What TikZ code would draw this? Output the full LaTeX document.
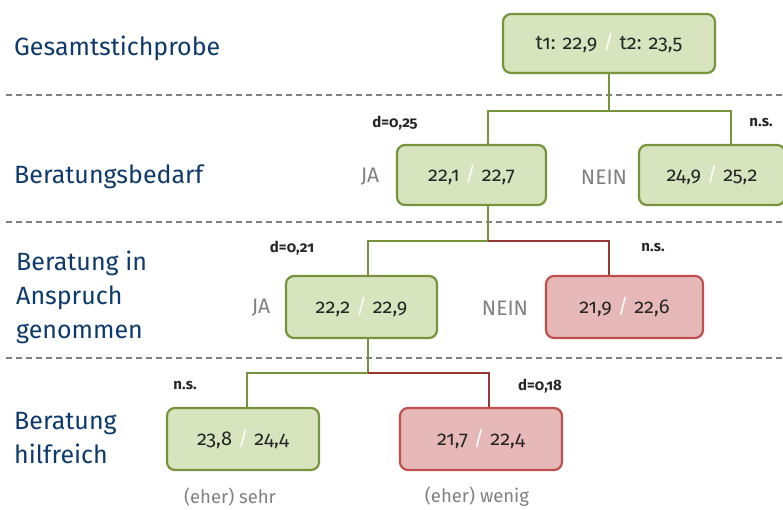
\documentclass[tikz,border=0pt]{standalone}
\usepackage{fontspec}
\setmainfont{Fira Sans}[Numbers=OldStyle]
\usetikzlibrary{positioning}
\definecolor{boxgreen}{HTML}{D7E4BD}
\definecolor{linegreen}{HTML}{77933C}
\definecolor{boxred}{HTML}{E6B9B8}
\definecolor{edgered}{HTML}{C0504D}
\definecolor{linered}{HTML}{953735}
\definecolor{navy}{HTML}{0E3A6B}
\definecolor{labelgray}{HTML}{808080}
\definecolor{valtext}{HTML}{262626}
\newcommand{\valsep}{\hspace{0.3em}\textcolor{white}{/}\hspace{0.3em}}
\tikzset{
  valbox/.style={draw, rounded corners=8pt, line width=2.2pt, text=valtext,
    font=\fontsize{20}{24}\selectfont, inner sep=0pt},
  gbox/.style={valbox, fill=boxgreen, draw=linegreen},
  rbox/.style={valbox, fill=boxred, draw=edgered},
  gline/.style={draw=linegreen, line width=2.2pt},
  rline/.style={draw=linered, line width=2.2pt},
  sep/.style={draw=labelgray, line width=1.2pt, dash pattern=on 6pt off 4pt},
  level/.style={text=navy, font=\fontsize{25}{34}\selectfont, anchor=west, align=left, inner sep=0pt},
  eff/.style={text=valtext, font=\fontsize{15}{16}\selectfont\bfseries, inner sep=0pt},
  choice/.style={text=labelgray, font=\fontsize{21}{24}\selectfont, inner sep=0pt},
  under/.style={text=labelgray, font=\fontsize{18.5}{22}\selectfont, inner sep=0pt}
}
\begin{document}
\begin{tikzpicture}[x=1pt,y=-1pt]
\useasboundingbox (0,0) rectangle (783,509);

% separators between levels
\draw[sep] (6,95) -- (783,95);
\draw[sep] (6,222) -- (783,222);
\draw[sep] (6,358) -- (783,358);

% level titles
\node[level] (l1) at (14,48) {Gesamtstichprobe};
\node[level] (l2) at (14,177) {Beratungsbedarf};
\node[level] (l3) at (16,297) {Beratung in\\Anspruch\\genommen};
\node[level] (l4) at (14,438) {Beratung\\hilfreich};

% value boxes
\node[gbox, minimum width=212pt, minimum height=59pt] (top) at (609,43.5) {t1: 22,9\valsep t2: 23,5};
\node[gbox, minimum width=149pt, minimum height=60pt] (ja1) at (471.5,175) {22,1\valsep 22,7};
\node[gbox, minimum width=146pt, minimum height=60pt] (nein1) at (712,175) {24,9\valsep 25,2};
\node[gbox, minimum width=151pt, minimum height=62pt] (ja2) at (361.5,307) {22,2\valsep 22,9};
\node[rbox, minimum width=157pt, minimum height=62pt] (nein2) at (624.5,307) {21,9\valsep 22,6};
\node[gbox, minimum width=152pt, minimum height=62pt] (sehr) at (243,439) {23,8\valsep 24,4};
\node[rbox, minimum width=162pt, minimum height=62pt] (wenig) at (481,439) {21,7\valsep 22,4};

% connectors
\coordinate (j1) at (609,111);
\coordinate (j2) at (488,241);
\coordinate (j3) at (368,373);
\draw[gline] (top.south) -- (j1);
\draw[gline] (j1) -| ([xshift=16.5pt]ja1.north);
\draw[gline] (j1) -| ([xshift=19pt]nein1.north);
\draw[gline] ([xshift=16.5pt]ja1.south) -- (j2);
\draw[gline] (j2) -| ([xshift=6.5pt]ja2.north);
\draw[rline] (j2) -| ([xshift=-15.5pt]nein2.north);
\draw[gline] ([xshift=6.5pt]ja2.south) -- (j3);
\draw[gline] (j3) -| ([xshift=4pt]sehr.north);
\draw[rline] (j3) -| ([xshift=8pt]wenig.north);

% effect sizes
\node[eff] (d1) at (395,123) {d=0,25};
\node[eff] (n1) at (761,123) {n.s.};
\node[eff] (d2) at (292,248) {d=0,21};
\node[eff] (n2) at (653,248) {n.s.};
\node[eff] (n3) at (185,386) {n.s.};
\node[eff] (d3) at (540,386) {d=0,18};

% answer labels
\node[choice] (a1) at (370,177) {JA};
\node[choice] (b1) at (604,177) {NEIN};
\node[choice] (a2) at (261,308) {JA};
\node[choice] (b2) at (505,308) {NEIN};
\node[under] (u1) at (230,497) {(eher) sehr};
\node[under] (u2) at (477,497) {(eher) wenig};
\end{tikzpicture}
\end{document}
